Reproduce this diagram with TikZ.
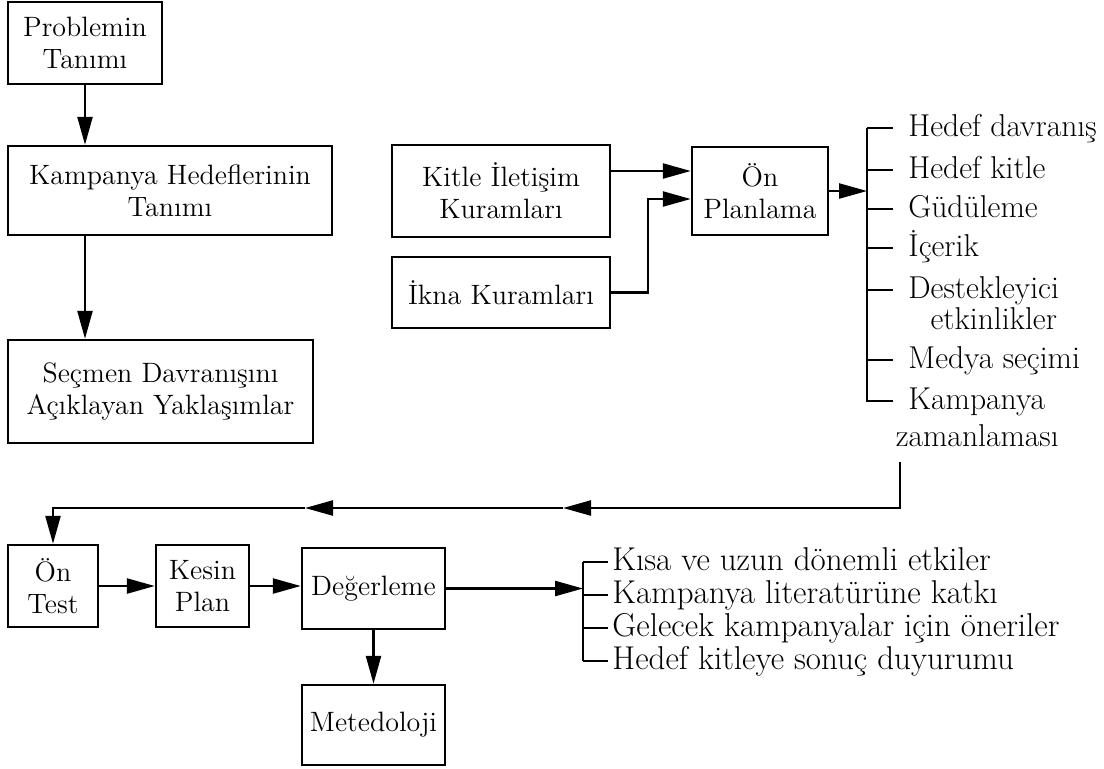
\documentclass[tikz,border=0pt]{standalone}
\usepackage{fontspec}
\usetikzlibrary{arrows.meta,positioning}

\tikzset{
    box/.style={draw, line width=1.2pt, align=center, inner sep=2pt,
        font=\fontsize{14}{16}\selectfont},
    link/.style={line width=1.2pt, -{Triangle[length=14pt,width=7.5pt]}},
    rule/.style={line width=1.2pt},
    item/.style={anchor=base west, inner sep=0pt, align=left,
        font=\fontsize{15.8}{15.5}\selectfont},
    outcome/.style={item, font=\fontsize{16.5}{17}\selectfont},
}

\begin{document}
\begin{tikzpicture}[x=0.5pt, y=-0.5pt]
    % Page frame (pixel grid of the reference)
    \useasboundingbox (0,0) rectangle (1104,768);

    % Left column
    \node[box, minimum width=77pt, minimum height=41pt] (problem) at (85,43) {Problemin\\Tanımı};
    \node[box, minimum width=162pt, minimum height=44.5pt] (hedef) at (170,190.5) {Kampanya Hedeflerinin\\Tanımı};
    \node[box, minimum width=152.5pt, minimum height=51.5pt] (secmen) at (160.5,391.5) {Seçmen Davranışını\\Açıklayan Yaklaşımlar};

    \draw[link] (problem.south) -- (problem.south |- hedef.north);
    \draw[link] (hedef.south -| problem.south) -- (secmen.north -| problem.south);

    % Theories feeding the pre-planning
    \node[box, minimum width=109pt, minimum height=46pt] (kitle) at (501,191) {Kitle İletişim\\Kuramları};
    \node[box, minimum width=109pt, minimum height=35.5pt] (ikna) at (501,292.5) {İkna Kuramları};
    \node[box, minimum width=68pt, minimum height=44pt] (onplan) at (760,191) {Ön\\Planlama};

    \draw[link] ([yshift=10pt]kitle.east) -- ([yshift=10pt]onplan.west);
    \draw[link] (ikna.east) -- ++(37,0) |- ([yshift=-4pt]onplan.west);

    % Bracket with the planning items
    % (base anchor of a two-line item sits on its last line)
    \coordinate (brtop) at (867,128);
    \coordinate (brbot) at (867,402);
    \draw[link] (onplan.east) -- (onplan.east -| brtop);
    \draw[rule] (brtop) -- (brbot);
    \foreach \nm/\yy/\ty/\txt in {hdav/128/128/{Hedef davranış}, hkit/170/170/{Hedef kitle},
        gud/209/209/{Güdüleme}, icer/248/248/{İçerik},
        dest/290/321/{Destekleyici\\\hspace*{.7em}etkinlikler},
        medya/360/360/{Medya seçimi},
        kzam/401/438/{Kampanya\\[3pt]\hspace*{-.4em}zamanlaması}} {
        \node[item] (\nm) at (908,\ty+8) {\txt};
        \draw[rule] (867,\yy) -- (893,\yy);
    }

    % Feedback line back to the pre-test
    \coordinate (fbtop) at (900,462);
    \coordinate (fbmid) at (563,508);
    \coordinate (fbleft) at (305,508);

    % Bottom row
    \node[box, minimum width=45pt, minimum height=41pt] (ontest) at (53,586) {Ön\\Test};
    \node[box, minimum width=46.5pt, minimum height=41pt] (kesin) at (202.5,586) {Kesin\\Plan};
    \node[box, minimum width=71.5pt, minimum height=40.5pt] (deger) at (373.5,588.5) {Değerleme};
    \node[box, minimum width=71.5pt, minimum height=40pt] (metod) at (373.5,725) {Metedoloji};

    \draw[link] (fbtop) |- (fbmid);
    \draw[link] (fbmid) -- (fbleft);
    \draw[link] (fbleft) -| (ontest.north);

    \draw[link] (ontest.east) -- (ontest.east -| kesin.west);
    \draw[link] (kesin.east) -- (kesin.east -| deger.west);
    \draw[link] (deger) -- (metod);

    % Bracket with the evaluation outcomes
    \coordinate (evtop) at (583,562);
    \coordinate (evbot) at (583,661);
    \draw[link] (deger.east) -- (deger.east -| evtop);
    \draw[rule] (evtop) -- (evbot);
    \foreach \nm/\yy/\txt in {kisa/562/{Kısa ve uzun dönemli etkiler},
        katki/595/{Kampanya literatürüne katkı},
        oneri/628/{Gelecek kampanyalar için öneriler},
        duyur/661/{Hedef kitleye sonuç duyurumu}} {
        \node[outcome] (\nm) at (612,\yy+8) {\txt};
        \draw[rule] (583,\yy) -- (608,\yy);
    }
\end{tikzpicture}
\end{document}
